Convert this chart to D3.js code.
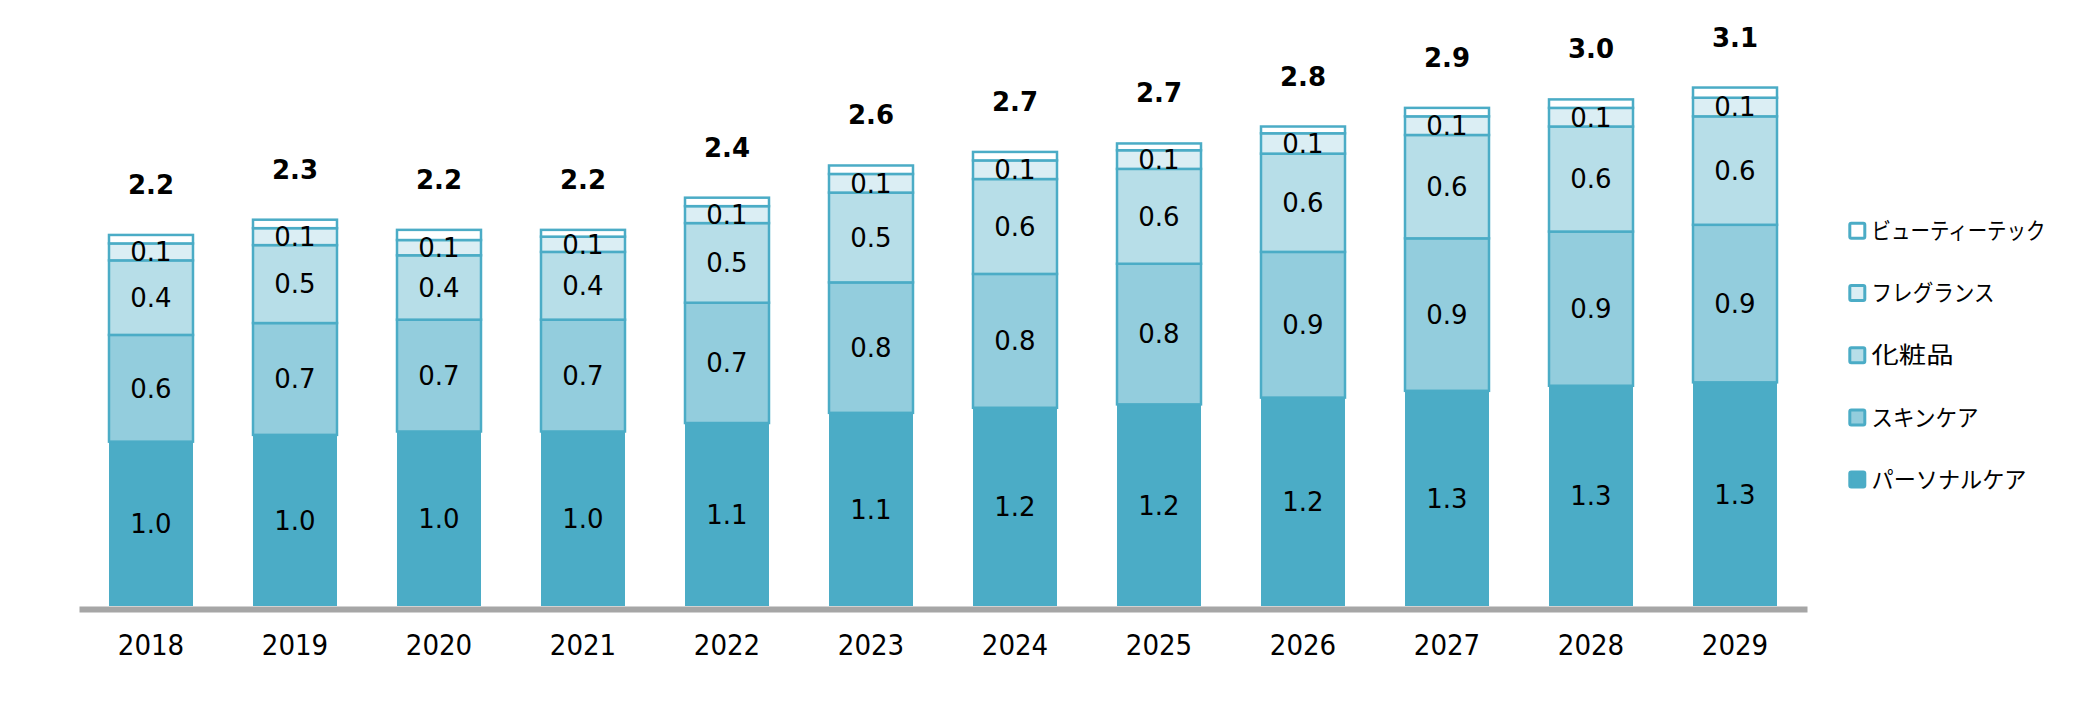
<!DOCTYPE html>
<html>
<head>
<meta charset="utf-8">
<script src="https://cdn.jsdelivr.net/npm/d3@7"></script>
<style>
  html, body { margin: 0; padding: 0; background: #fff; }
  svg { display: block; }
</style>
</head>
<body>
<svg id="chart" width="2093" height="709"></svg>
<script>
const years = ["2018","2019","2020","2021","2022","2023","2024","2025","2026","2027","2028","2029"];
const seriesNames = ["パーソナルケア","スキンケア","化粧品","フレグランス","ビューティーテック"];
const personalCare = [0.97,1.01,1.03,1.03,1.08,1.14,1.17,1.19,1.23,1.27,1.30,1.32];
const skinCare     = [0.63,0.66,0.66,0.66,0.71,0.77,0.79,0.83,0.86,0.90,0.91,0.93];
const cosmetics    = [0.44,0.46,0.38,0.40,0.47,0.53,0.56,0.56,0.58,0.61,0.62,0.64];
const fragrance    = [0.10,0.10,0.09,0.09,0.10,0.11,0.11,0.11,0.12,0.11,0.11,0.11];
const beautyTech   = [0.05,0.05,0.06,0.04,0.05,0.05,0.05,0.04,0.04,0.05,0.05,0.06];

// styles
const seriesColors = ["#4BACC6","#93CDDD","#B7DEE8","#DBEEF4","#FFFFFF"];
const showSegLabel = [true,true,true,true,false];
const legendTextWidths = [155,107,82,123,174]; // rendered widths of legend labels (narrow kana)

const seriesValues = [personalCare, skinCare, cosmetics, fragrance, beautyTech];
const keys = ["p","s","c","f","b"];
const table = years.map((yr, i) => {
  const row = { year: yr };
  keys.forEach((k, j) => row[k] = seriesValues[j][i]);
  row.total = d3.sum(seriesValues, s => s[i]);
  return row;
});

const svg = d3.select("#chart");
const x = d3.scaleBand().domain(years).range([79, 1807]).paddingInner(0.4167).paddingOuter(0.2083);
const y = d3.scaleLinear().domain([0, 3.5]).range([606, 13]);

const stacked = d3.stack().keys(keys)(table);
const fmt = d3.format(".1f");

const g = svg.append("g");
stacked.forEach((layer, li) => {
  g.append("g").selectAll("rect").data(layer).join("rect")
    .attr("x", d => x(d.data.year))
    .attr("width", x.bandwidth())
    .attr("y", d => y(d[1]))
    .attr("height", d => y(d[0]) - y(d[1]))
    .attr("fill", seriesColors[li])
    .attr("stroke", li === 0 ? "none" : "#4BACC6")
    .attr("stroke-width", 2.5);
});

// segment labels
stacked.forEach((layer, li) => {
  if (!showSegLabel[li]) return;
  g.append("g").selectAll("text").data(layer).join("text")
    .attr("x", d => x(d.data.year) + x.bandwidth() / 2)
    .attr("y", d => (y(d[0]) + y(d[1])) / 2)
    .attr("dy", "0.36em")
    .attr("text-anchor", "middle")
    .attr("font-family", "DejaVu Sans, Verdana, sans-serif")
    .attr("font-size", 26)
    .attr("fill", "#000")
    .text(d => fmt(d[1] - d[0]));
});

// totals
g.append("g").selectAll("text").data(table).join("text")
  .attr("x", d => x(d.year) + x.bandwidth() / 2)
  .attr("y", d => y(d.total) - 41)
  .attr("text-anchor", "middle")
  .attr("font-family", "DejaVu Sans, Verdana, sans-serif")
  .attr("font-weight", "bold")
  .attr("font-size", 26)
  .attr("fill", "#000")
  .text(d => fmt(d.total));

// x axis
const xAxis = d3.axisBottom(x).tickSize(0).tickPadding(0);
const ax = svg.append("g").attr("transform", "translate(0,609)").call(xAxis);
ax.select(".domain").attr("stroke", "#A6A6A6").attr("stroke-width", 6);
ax.selectAll(".tick text")
  .attr("y", 36)
  .attr("dy", "0.36em")
  .attr("font-family", "DejaVu Sans Condensed, DejaVu Sans, sans-serif")
  .attr("font-size", 29)
  .attr("fill", "#000");

// legend (top to bottom: reversed series order)
const legendOrder = [4,3,2,1,0];
const lgd = svg.append("g");
legendOrder.forEach((si, k) => {
  const cy = 230.8 + k * 62.2;
  lgd.append("rect")
    .attr("x", 1849.8).attr("y", cy - 7.5)
    .attr("width", 15).attr("height", 15)
    .attr("rx", 1.5)
    .attr("fill", seriesColors[si])
    .attr("stroke", "#4BACC6").attr("stroke-width", 3);
  lgd.append("text")
    .attr("x", 1871.5).attr("y", cy)
    .attr("dy", "0.36em")
    .attr("font-family", "Noto Sans CJK JP, sans-serif")
    .attr("font-size", 23)
    .attr("fill", "#000")
    .attr("textLength", legendTextWidths[si])
    .attr("lengthAdjust", "spacingAndGlyphs")
    .text(seriesNames[si]);
});
</script>
</body>
</html>
